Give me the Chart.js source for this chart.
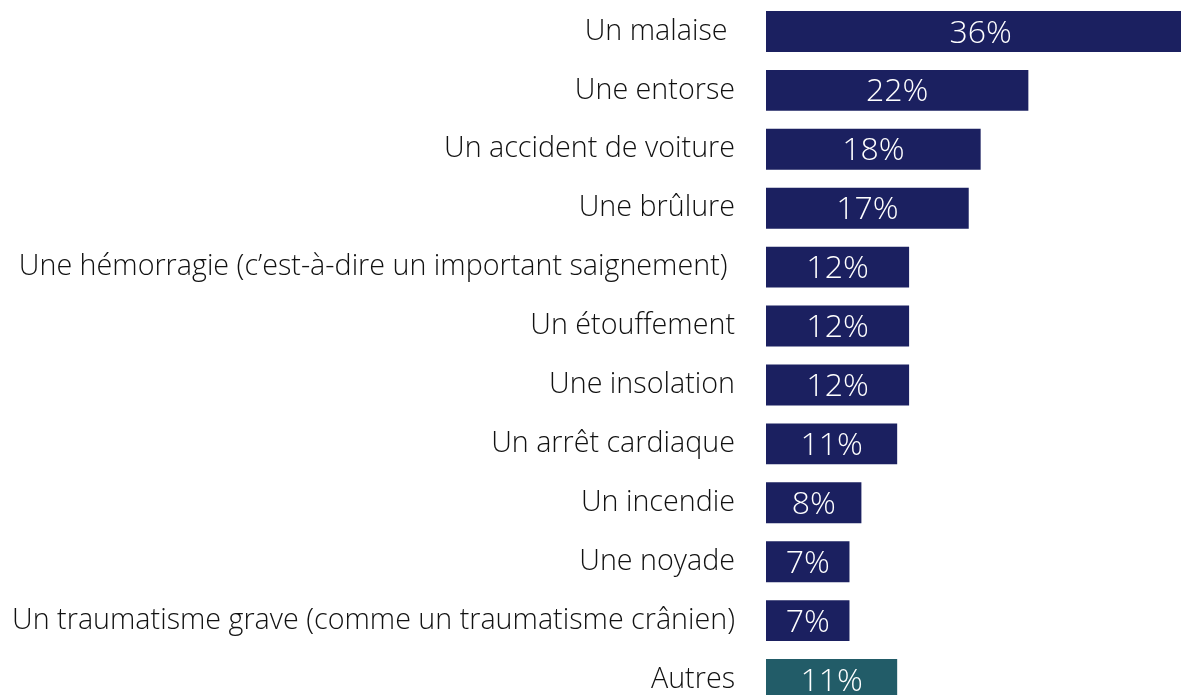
<!DOCTYPE html>
<html>
<head>
<meta charset="utf-8">
<script src="https://cdn.jsdelivr.net/npm/chart.js@4/dist/chart.umd.min.js"></script>
<style>
  html, body { margin: 0; padding: 0; background: #ffffff; overflow: hidden; }
  #wrap { position: relative; width: 1181px; height: 709px; }
</style>
</head>
<body>
<div id="wrap"><canvas id="myChart"></canvas></div>
<script>
// Categories (trailing spaces kept as in the original labels)
var categories = [
    "Un malaise ",
    "Une entorse",
    "Un accident de voiture",
    "Une brûlure",
    "Une hémorragie (c\u2019est-à-dire un important saignement) ",
    "Un étouffement",
    "Une insolation",
    "Un arrêt cardiaque",
    "Un incendie",
    "Une noyade",
    "Un traumatisme grave (comme un traumatisme crânien)",
    "Autres"
]

// Percentages
var values = [36, 22, 18, 17, 12, 12, 12, 11, 8, 7, 7, 11]

// Colours
var navyColor = "#1b2060"
var tealColor = "#225c68"
var barColors = categories.map(function(c) { return c === "Autres" ? tealColor : navyColor })

var fontFamily = "'Open Sans', 'DejaVu Sans', sans-serif"

// Writes the value in the middle of each bar
const valueLabels = {
    id: 'valueLabels',
    afterDatasetsDraw(chart) {
        const ctx = chart.ctx
        const meta = chart.getDatasetMeta(0)
        ctx.save()
        ctx.fillStyle = "white"
        ctx.font = "300 32px " + fontFamily
        ctx.textAlign = "center"
        ctx.textBaseline = "middle"
        meta.data.forEach(function(bar, i) {
            ctx.fillText(values[i] + "%", (bar.x + bar.base) / 2, bar.y + 2)
        })
        ctx.restore()
    }
}

const ctx = document.getElementById('myChart').getContext('2d')
const config = {
    type: 'bar',
    data: {
        labels: categories,
        datasets: [{
            data: values,
            backgroundColor: barColors,
            borderWidth: 0,
            barPercentage: 1,
            categoryPercentage: 0.695
        }]
    },
    options: {
        indexAxis: 'y',
        responsive: true,
        maintainAspectRatio: false,
        animation: false,
        layout: { padding: { top: 2, left: 0, right: 0, bottom: 0 } },
        plugins: {
            legend: { display: false },
            tooltip: { enabled: false }
        },
        scales: {
            x: {
                display: false,
                min: 0,
                max: 34.8
            },
            y: {
                grid: { display: false, drawTicks: false },
                border: { display: false },
                ticks: {
                    color: "#111111",
                    padding: 31,
                    autoSkip: false,
                    font: { family: fontFamily, size: 28.7, weight: 300 }
                },
                afterFit: function(scale) {
                    scale.width = 766
                    scale.paddingTop = 0
                    scale.paddingBottom = 0
                }
            }
        }
    },
    plugins: [valueLabels]
}

const myChart = new Chart(ctx, config)
</script>
</body>
</html>
